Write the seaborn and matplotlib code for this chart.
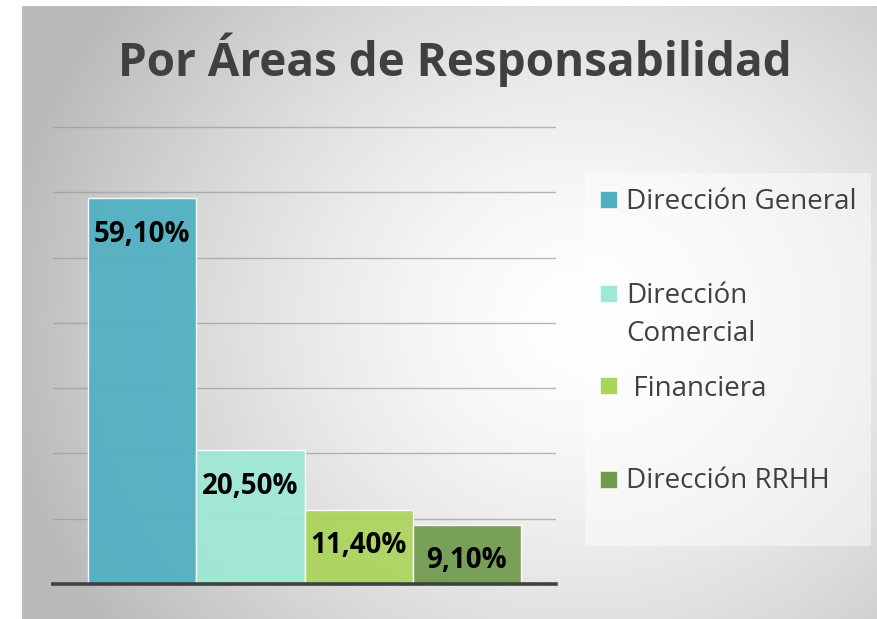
import numpy as np
import pandas as pd
import matplotlib
matplotlib.use("Agg")
import matplotlib.pyplot as plt
from matplotlib.patches import Rectangle
import seaborn as sns

# datos
areas = ["Dirección General", "Dirección Comercial", "Financiera", "Dirección RRHH"]
valores = [59.1, 20.5, 11.4, 9.1]
etiquetas_leyenda = ["Dirección General", "Dirección\nComercial", " Financiera", "Dirección RRHH"]
colores = ["#4fb0c2", "#9ee8d6", "#aad45a", "#6f9a4d"]
titulo = "Por Áreas de Responsabilidad"

df = pd.DataFrame({"grupo": ["Total"] * len(areas), "area": areas, "valor": valores})

sns.set_theme(style="white")
plt.rcParams["font.family"] = ["Open Sans", "DejaVu Sans"]

W, H = 877, 619
fig = plt.figure(figsize=(W / 100, H / 100), dpi=100)
fig.patch.set_facecolor("white")

# fondo con degradado radial (panel gris)
bg = fig.add_axes([22 / W, 0, 1 - 22 / W, (H - 6) / H], zorder=-5)
yy, xx = np.mgrid[0:H - 6, 0:W - 22]
cx, cy = 580 - 22, 320 - 6
d = np.sqrt((xx - cx) ** 2 + ((yy - cy) * 1.1) ** 2) / 580
d = np.clip(d, 0, 1)
g = 1.0 - 0.27 * d ** 1.5
bg.imshow(np.dstack([g, g, g]), aspect="auto", extent=[0, 1, 0, 1], origin="upper")
bg.axis("off")

ax = fig.add_axes([53 / W, 1 - 584 / H, (556 - 53) / W, (584 - 125) / H])
ax.set_facecolor("none")

sns.barplot(data=df, x="grupo", y="valor", hue="area", hue_order=areas,
            palette=colores, saturation=1, width=0.86, gap=0, legend=False,
            alpha=0.92, edgecolor=(1, 1, 1, 0.6), linewidth=1, ax=ax, zorder=2)

ax.set_xlim(-0.5, 0.5)
ax.set_ylim(0, 70.3)
ax.set_yticks(np.arange(10, 80, 10))
ax.set_yticklabels([])
ax.set_xticks([])
ax.set_xlabel("")
ax.set_ylabel("")
ax.yaxis.grid(True, color="#9a9a9a", linewidth=1, alpha=0.7, zorder=0)
ax.set_axisbelow(True)
ax.tick_params(left=False, bottom=False)
for s in ["left", "right", "top"]:
    ax.spines[s].set_visible(False)
ax.spines["bottom"].set_color("#404040")
ax.spines["bottom"].set_linewidth(2.6)

# etiquetas de datos dentro de las barras
for cont, v in zip(ax.containers, valores):
    rect = cont.patches[0]
    txt = f"{v:.2f}%".replace(".", ",")
    ax.annotate(txt, (rect.get_x() + rect.get_width() / 2, rect.get_height()),
                xytext=(0, -26), textcoords="offset points",
                ha="center", va="center", fontsize=20, fontweight="bold",
                color="black", zorder=5)

fig.text(455 / W, 1 - 60 / H, titulo, ha="center", va="center",
         fontsize=33, fontweight="bold", color="#404040")

# leyenda
fig.patches.append(Rectangle((585 / W, 1 - 546 / H), (871 - 585) / W, (546 - 173) / H,
                             transform=fig.transFigure, facecolor="white", alpha=0.45,
                             edgecolor="none", zorder=1))
y_marcas = [200, 294, 386, 480]
y_textos = [202, 315, 389, 481]
for c, lab, ym, yt in zip(colores, etiquetas_leyenda, y_marcas, y_textos):
    fig.patches.append(Rectangle((600 / W, 1 - (ym + 8) / H), 17 / W, 17 / H,
                                 transform=fig.transFigure, facecolor=c,
                                 edgecolor=(1, 1, 1, 0.6), linewidth=0.8, zorder=2))
    fig.text(626 / W, 1 - yt / H, lab, ha="left", va="center", fontsize=20,
             color="#404040", linespacing=1.5, zorder=3)

fig.savefig("out.png", dpi=100)
